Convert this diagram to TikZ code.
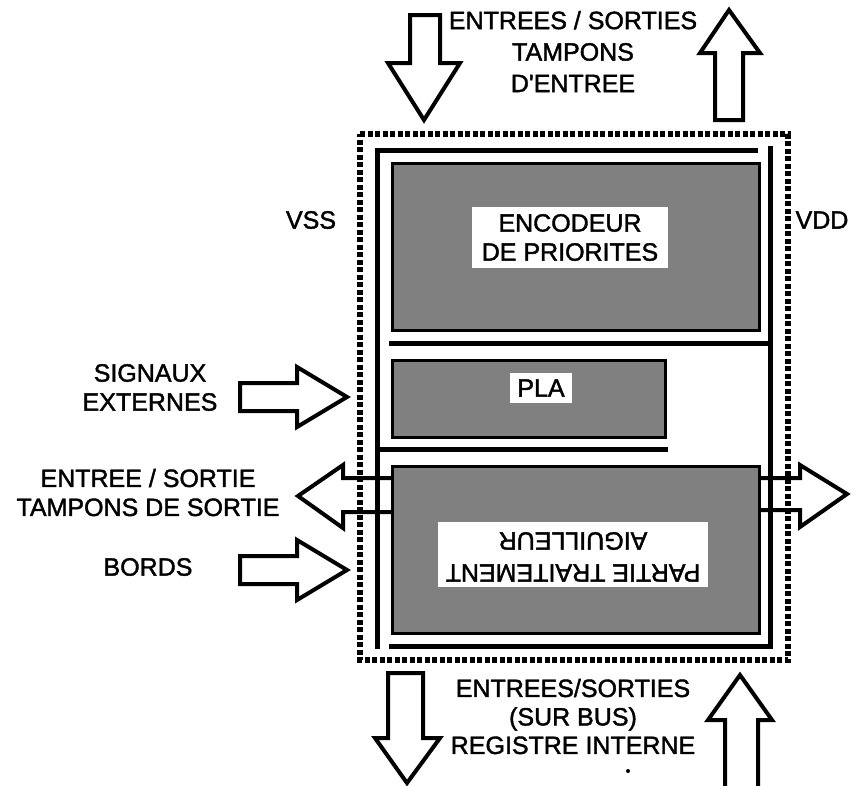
\documentclass[tikz,border=0pt]{standalone}
\usepackage{fontspec}
\setmainfont{Liberation Sans}
\newfontfamily\heavy{Liberation Sans}[FakeBold=1.6]
\begin{document}
\begin{tikzpicture}[x=1pt,y=-1pt,
  lbl/.style={font=\fontsize{25}{29}\selectfont\heavy, align=center, inner sep=0pt},
  blockarrow/.style={draw=black, line width=4pt, fill=white, line join=miter},
  openarrow/.style={draw=black, line width=4pt, line join=miter},
  rail/.style={line width=5pt},
  chip/.style={draw=black, line width=3pt, fill=black!50},
  tag/.style={fill=white, inner sep=0pt, align=center, font=\fontsize{25}{29}\selectfont\heavy},
  flipped/.style={inner sep=0pt, rotate=180, font=\fontsize{25}{29}\selectfont\heavy},
  hatched/.style={draw=black, line width=6pt, dash pattern=on 5pt off 2.5pt}
]
\useasboundingbox (0,0) rectangle (856,785);

% hatched outer border
\draw[hatched] (360,134) -- (788,134) -- (788,660) -- (360,660) -- cycle;

% rails
\draw[rail] (377,147.5) -- (377,649);
\draw[rail] (374.5,150) -- (758,150);
\draw[rail] (770,146) -- (770,649);
\draw[rail] (389,646) -- (768,646);
\draw[rail] (389,343) -- (770,343);
\draw[rail] (377,449) -- (668,449);

% blocks
\path[chip] (392,163) rectangle (759,330);
\path[chip] (392,360) rectangle (665,437);
\path[chip] (392,466) rectangle (759,633);

\node[tag, minimum width=196pt, minimum height=61pt] (enc) at (570,237.5) {ENCODEUR\\DE PRIORITES};
\node[tag, minimum width=62pt, minimum height=30pt] (pla) at (541,388) {PLA};
\node[tag, minimum width=270pt, minimum height=65pt] (part) at (573,554) {};
\node[flipped] (part1) at (573,573) {PARTIE TRAITEMENT};
\node[flipped] (part2) at (573,541) {AIGUILLEUR};

% top arrows
\draw[blockarrow] (410,15) -- (440,15) -- (440,63) -- (460,63) -- (424,120) -- (388,63) -- (410,63) -- cycle;
\draw[blockarrow] (715,120) -- (715,53) -- (700,53) -- (729,10) -- (760,53) -- (743,53) -- (743,120) -- cycle;

% bottom arrows
\draw[blockarrow] (388,673) -- (423,673) -- (423,738) -- (440,738) -- (407,783) -- (375,738) -- (388,738) -- cycle;
\draw[blockarrow] (725,792) -- (725,720) -- (708,720) -- (740,675) -- (772,720) -- (758,720) -- (758,792) -- cycle;

% left arrows
\draw[blockarrow] (240,383) -- (297,383) -- (297,367) -- (347,397) -- (297,427) -- (297,411) -- (240,411) -- cycle;
\draw[blockarrow] (240,556) -- (297,556) -- (297,540) -- (347,570) -- (297,600) -- (297,584) -- (240,584) -- cycle;

% bidirectional arrow through the bottom block
\draw[openarrow] (392,478) -- (343,478) -- (343,465) -- (298,496) -- (343,528) -- (343,512) -- (392,512);
\draw[openarrow] (759,478) -- (800,478) -- (800,465) -- (847,494) -- (800,527) -- (800,510) -- (759,510);

% labels
\node[lbl, font=\fontsize{25}{31.5}\selectfont\heavy] (tio) at (573,51.5) {ENTREES / SORTIES\\TAMPONS\\D'ENTREE};
\node[lbl, font=\fontsize{25}{28.5}\selectfont\heavy] (bio) at (573,716.5) {ENTREES/SORTIES\\(SUR BUS)\\REGISTRE INTERNE};
\node[lbl] (vss) at (311,220) {VSS};
\node[lbl] (vdd) at (822,220) {VDD};
\node[lbl] (sig) at (150,387.5) {SIGNAUX\\EXTERNES};
\node[lbl] (es) at (148,492.5) {ENTREE / SORTIE\\TAMPONS DE SORTIE};
\node[lbl] (bords) at (148,567) {BORDS};

\fill (628,771) circle (2pt);
\end{tikzpicture}
\end{document}
